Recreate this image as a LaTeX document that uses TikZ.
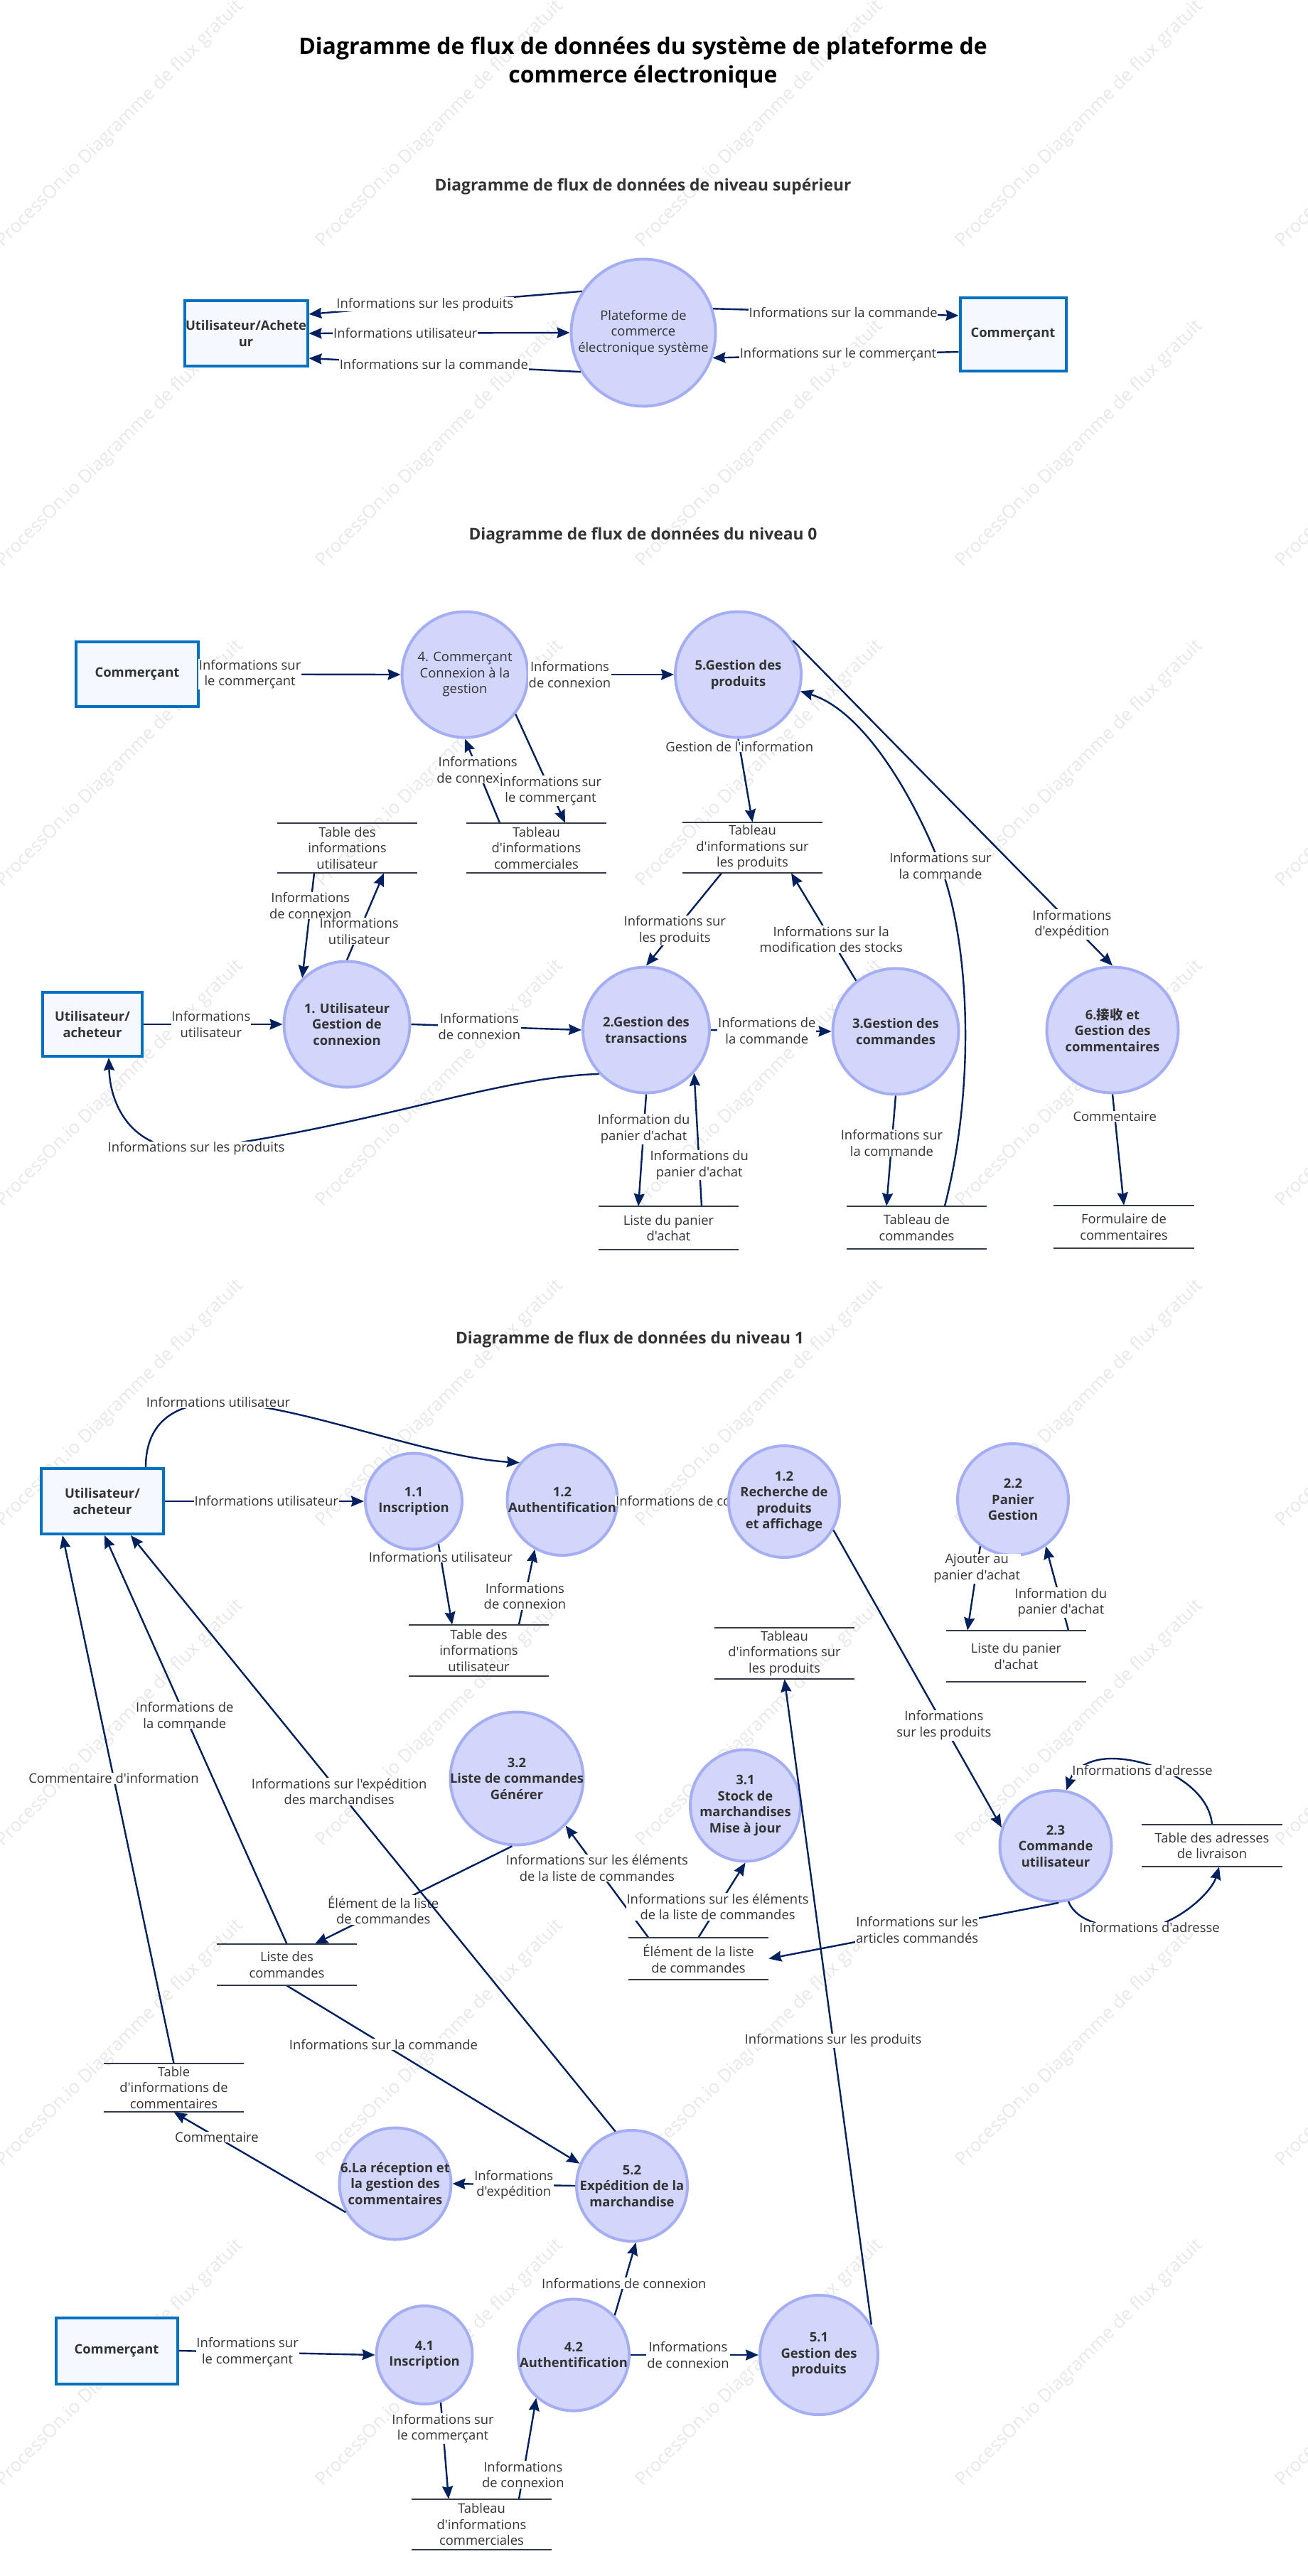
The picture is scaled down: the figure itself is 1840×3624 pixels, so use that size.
\documentclass[tikz,border=0pt]{standalone}
\usepackage{fontspec}
\defaultfontfeatures[\rmfamily]{}
\setmainfont{Open Sans}
\newfontfamily\cjk{Noto Sans CJK SC}
\usetikzlibrary{arrows.meta,shapes.geometric}
\definecolor{flowblue}{HTML}{002060}
\definecolor{procfill}{HTML}{D2D6FA}
\definecolor{procline}{HTML}{A5AEF3}
\definecolor{boxline}{HTML}{0070C0}
\definecolor{boxfill}{HTML}{F5F8FF}
\definecolor{inkgray}{HTML}{333333}
\definecolor{storeline}{HTML}{323C4C}
\definecolor{markgray}{HTML}{E8E8E8}

\begin{document}
\begin{tikzpicture}[
  x=0.5pt, y=-0.5pt,
  >={Stealth[length=9pt, width=7.5pt, inset=1pt]},
  flow/.style={->, line width=1.2pt, flowblue},
  lbl/.style={fill=white, inner sep=0.4pt, align=center, text=inkgray,
    font=\fontsize{9.2}{11.25}\selectfont},
  proc/.style n args={2}{ellipse, draw=procline, line width=2pt, fill=procfill, inner sep=-25pt,
    minimum width=#1*0.5pt, minimum height=#2*0.5pt, align=center, text=inkgray,
    font=\fontsize{9.2}{11.25}\selectfont\bfseries},
  extbox/.style n args={2}{rectangle, draw=boxline, line width=2pt, fill=boxfill, inner sep=0pt,
    minimum width=#1*0.5pt, minimum height=#2*0.5pt, align=center, text=inkgray,
    font=\fontsize{9.2}{11.25}\selectfont\bfseries},
  storebox/.style={rectangle, inner sep=0pt, minimum width=98.5pt, minimum height=#1*0.5pt,
    align=center, text=inkgray, font=\fontsize{9.2}{11.25}\selectfont},
  heading/.style={inner sep=0pt, align=center, text=inkgray,
    font=\fontsize{11.4}{14}\selectfont\bfseries}
]
  \useasboundingbox (0,0) rectangle (1840,3624);

  % Watermark grid
  \foreach \r in {-1,...,7} {
    \foreach \c in {0,...,4} {
      \node[anchor=west, rotate=45, inner sep=0pt, text=markgray, font=\fontsize{12.9}{15}\selectfont]
        (wm\r\c) at (\c*450-1, \r*450+344) {ProcessOn.io Diagramme de flux gratuit};
    }
  }

  % Titles
  \node[inner sep=0pt, align=center, font=\fontsize{16}{19.6}\selectfont\bfseries]
    (title) at (904.5,88) {Diagramme de flux de données du système de plateforme de\\commerce électronique};
  \node[heading] (headtop) at (904.5,263) {Diagramme de flux de données de niveau supérieur};
  \node[heading] (headzero) at (904.5,753) {Diagramme de flux de données du niveau 0};
  \node[heading] (headone) at (886,1884) {Diagramme de flux de données du niveau 1};

  % Top level
  \node[extbox={173}{92}] (usr0) at (346,469) {Utilisateur/Achete\\ur};
  \node[extbox={149}{103}] (mer0) at (1425,470) {Commerçant};
  \node[proc={203}{207}, font=\fontsize{9.2}{11.25}\selectfont] (sys) at (905,468)
    {Plateforme de\\commerce\\électronique système};

  \draw[flow] (sys.146) -- node[lbl, pos=.575] (lbt1) {Informations sur les produits} ([shift={(0,-27)}]usr0.east);
  \draw[flow, <->] (usr0.east) -- node[lbl, pos=.37] (lbt2) {Informations utilisateur} (sys.west);
  \draw[flow] (sys.212) -- node[lbl, pos=.54] (lbt3) {Informations sur la commande} ([shift={(0,35)}]usr0.east);
  \draw[flow] (sys.19) -- node[lbl, pos=.53] (lbt4) {Informations sur la commande} ([shift={(0,-26)}]mer0.west);
  \draw[flow] ([shift={(0,25)}]mer0.west) -- node[lbl, pos=.49] (lbt5) {Informations sur le commerçant} (sys.-20);

  % Level 0: boxes and stores
  \node[extbox={172}{91}] (mer1) at (193,948.5) {Commerçant};
  \node[extbox={140}{90}] (usr1) at (130,1441) {Utilisateur/\\acheteur};
  \node[storebox=70] (st1) at (488.5,1193) {Table des\\informations\\utilisateur};
  \node[storebox=70] (st4) at (754.5,1193) {Tableau\\d'informations\\commerciales};
  \node[storebox=71] (stp) at (1058.5,1192.5) {Tableau\\d'informations sur\\les produits};
  \node[storebox=60] (stc) at (940.5,1727.5) {Liste du panier\\d'achat};
  \node[storebox=60] (sto) at (1289.5,1727) {Tableau de\\commandes};
  \node[storebox=60] (stf) at (1581,1726) {Formulaire de\\commentaires};

  % Level 0: processes
  \node[proc={177}{177}, font=\fontsize{9.2}{11.25}\selectfont] (p4) at (654,949) {4. Commerçant\\Connexion à la\\gestion};
  \node[proc={177}{177}] (p5) at (1038.5,949) {5.Gestion des\\produits};
  \node[proc={177}{177}] (p1) at (488,1441) {1. Utilisateur\\Gestion de\\connexion};
  \node[proc={178}{177}] (p2) at (909,1449) {2.Gestion des\\transactions};
  \node[proc={177}{177}] (p3) at (1260,1451) {3.Gestion des\\commandes};
  \node[proc={185}{177}] (p6) at (1565,1449) {6.{\cjk 接收} et\\Gestion des\\commentaires};

  % Level 0: flows
  \draw[flow] (mer1.east) -- node[lbl, pos=.25] (lb01) {Informations sur\\le commerçant} (p4.west);
  \draw[flow] (p4.east) -- node[lbl, pos=.28] (lb02) {Informations\\de connexion} (p5.west);
  \draw[flow] ([shift={(-51.5,0)}]st4.north) -- node[lbl, pos=.63] (lb03) {Informations\\de connexion} (p4.south);
  \draw[flow] (p4.-38) -- node[lbl, pos=.706] (lb04) {Informations sur\\le commerçant} ([shift={(40.5,0)}]st4.north);
  \draw[flow] (p5.south) -- node[lbl, pos=.09] (lb05) {Gestion de l'information} (stp.north);
  \draw[flow] ([shift={(-43.5,0)}]stp.south) -- node[lbl, pos=.62] (lb06) {Informations sur\\les produits} (p2.north);
  \draw[flow] (p3.128) -- node[lbl, pos=.384] (lb07) {Informations sur la\\modification des stocks} ([shift={(54.5,0)}]stp.south);
  \draw[flow] (p2.east) -- node[lbl, pos=.465] (lb08) {Informations de\\la commande} (p3.west);
  \draw[flow] (p3.south) -- node[lbl, pos=.43] (lb09) {Informations sur\\la commande} ([shift={(-42.5,0)}]sto.north);
  \draw[flow] ([shift={(39.5,0)}]sto.north) .. controls (1372,1530) and (1365,1330) .. (1323,1218)
    node[lbl] (lb10) {Informations sur\\la commande}
    .. controls (1285,1120) and (1215,1000) .. (p5.-15);
  \draw[flow] (p5.32) -- node[lbl, pos=.873] (lb11) {Informations\\d'expédition} (p6.north);
  \draw[flow] (p6.south) -- node[lbl, pos=.2] (lb12) {Commentaire} (stf.north);
  \draw[flow] (p2.south) -- node[lbl, pos=.31] (lb13) {Information du\\panier d'achat} ([shift={(-42.5,0)}]stc.north);
  \draw[flow] ([shift={(46.5,0)}]stc.north) -- node[lbl, pos=.31] (lb14) {Informations du\\panier d'achat} (p2.-42);
  \draw[flow] (usr1.east) -- node[lbl, pos=.485] (lb15) {Informations\\utilisateur} (p1.west);
  \draw[flow] (p1.east) -- node[lbl, pos=.4] (lb16) {Informations\\de connexion} (p2.west);
  \draw[flow] ([shift={(-46.5,0)}]st1.south) -- node[lbl, pos=.31] (lb17) {Informations\\de connexion} (p1.134);
  \draw[flow] (p1.north) -- node[lbl, pos=.33] (lb18) {Informations\\utilisateur} ([shift={(51.5,0)}]st1.south);
  \draw[flow] (p2.223) .. controls (700,1515) and (520,1585) .. (276,1616)
    node[lbl] (lb19) {Informations sur les produits}
    .. controls (190,1622) and (155,1560) .. ([shift={(23,0)}]usr1.south);

  % Level 1: boxes and stores
  \node[extbox={172}{92}] (usr2) at (144,2112) {Utilisateur/\\acheteur};
  \node[extbox={171}{93}] (mer2) at (164,3307) {Commerçant};
  \node[storebox=72] (sq1) at (673.5,2322) {Table des\\informations\\utilisateur};
  \node[storebox=72] (sqp) at (1103.5,2326) {Tableau\\d'informations sur\\les produits};
  \node[storebox=72] (sqc) at (1429.5,2330) {Liste du panier\\d'achat};
  \node[storebox=59] (sqa) at (1705,2596.5) {Table des adresses\\de livraison};
  \node[storebox=59] (sqe) at (982.5,2755.5) {Élément de la liste\\de commandes};
  \node[storebox=58] (sql) at (403.5,2764) {Liste des\\commandes};
  \node[storebox=68] (sqm) at (244.5,2937) {Table\\d'informations de\\commentaires};
  \node[storebox=71] (sqt) at (677.5,3551.5) {Tableau\\d'informations\\commerciales};

  % Level 1: processes
  \node[proc={136}{135}] (q11) at (582,2112) {1.1\\Inscription};
  \node[proc={155}{156}] (q12) at (791,2110) {1.2\\Authentification};
  \node[proc={156}{157}] (q22) at (1425,2109.5) {2.2\\Panier\\Gestion};
  \node[proc={157}{156}] (q23) at (1485,2597) {2.3\\Commande\\utilisateur};
  \node[proc={187}{187}] (q32) at (727,2502) {3.2\\Liste de commandes\\Générer};
  \node[proc={155}{157}] (q31) at (1048.5,2540) {3.1\\Stock de\\marchandises\\Mise à jour};
  \node[proc={156}{156}] (q52) at (889,3075) {5.2\\Expédition de la\\marchandise};
  \node[proc={157}{157}] (q6) at (556,3072) {6.La réception et\\la gestion des\\commentaires};
  \node[proc={135}{138}] (q41) at (597,3313) {4.1\\Inscription};
  \node[proc={156}{157}] (q42) at (807,3313) {4.2\\Authentification};
  \node[proc={166}{168}] (q51) at (1152,3313) {5.1\\Gestion des\\produits};

  % Level 1: this label runs under the next circle
  \coordinate (q13w) at (1025,2112);
  \draw[flow] (q12.east) -- node[lbl, pos=.72] (lc01) {Informations de connexion} (q13w);
  \node[proc={156}{157}] (q13) at (1103,2112.5) {1.2\\Recherche de\\produits\\et affichage};

  % Level 1: flows
  \draw[flow] (usr2.east) -- node[lbl, pos=.51] (lc02) {Informations utilisateur} (q11.west);
  \draw[flow] ([shift={(61,0)}]usr2.north) .. controls (205,2020) and (225,1975) .. (307,1973)
    node[lbl] (lc03) {Informations utilisateur}
    .. controls (420,1975) and (600,2050) .. (q12.139);
  \draw[flow] (q11.-60) -- node[lbl, pos=.16] (lc04) {Informations utilisateur} ([shift={(-37.5,0)}]sq1.north);
  \draw[flow] ([shift={(56.5,0)}]sq1.north) -- node[lbl, pos=.38] (lc05) {Informations\\de connexion} (q12.241);
  \draw[flow] (q13.-30) -- node[lbl, pos=.657] (lc06) {Informations\\sur les produits} (q23.161);
  \draw[flow] (q22.235) -- node[lbl, pos=.265] (lc07) {Ajouter au\\panier d'achat} ([shift={(-68.5,0)}]sqc.north);
  \draw[flow] ([shift={(73.5,0)}]sqc.north) -- node[lbl, pos=.33] (lc08) {Information du\\panier d'achat} (q22.-55);
  \draw[flow] (sqa.north) .. controls (1700,2510) and (1620,2474) .. (1564,2474)
    .. controls (1530,2474) and (1510,2490) .. (q23.79);
  \node[lbl] (lc09) at (1607,2491) {Informations d'adresse};
  \draw[flow] (q23.-77) .. controls (1515,2705) and (1560,2715) .. (1617,2712)
    node[lbl] (lc10) {Informations d'adresse}
    .. controls (1665,2700) and (1705,2660) .. ([shift={(10,0)}]sqa.south);
  \draw[flow] (q23.-87) -- node[lbl, pos=.488] (lc11) {Informations sur les\\articles commandés} (sqe.east);
  \draw[flow] ([shift={(-70.5,0)}]sqe.north) -- node[lbl, pos=.62] (lc12) {Informations sur les éléments\\de la liste de commandes} (q32.-44);
  \draw[flow] (sqe.north) -- node[lbl, pos=.41] (lc13) {Informations sur les éléments\\de la liste de commandes} (q31.south);
  \draw[flow] (q32.266) -- node[lbl, pos=.653] (lc14) {Élément de la liste\\de commandes} ([shift={(39.5,0)}]sql.north);
  \draw[flow] (sql.north) -- node[lbl, pos=.56] (lc15) {Informations de\\la commande} ([shift={(3,0)}]usr2.south);
  \draw[flow] (sql.south) -- node[lbl, pos=.33] (lc16) {Informations sur la commande} (q52.157);
  \draw[flow] (sqm.north) -- node[lbl, pos=.54] (lc17) {Commentaire d'information} ([shift={(-56,0)}]usr2.south);
  \draw[flow] (q52.107) -- node[lbl, pos=.57] (lc18) {Informations sur l'expédition\\des marchandises} ([shift={(40,0)}]usr2.south);
  \draw[flow] (q52.west) -- node[lbl, pos=.5] (lc19) {Informations\\d'expédition} (q6.east);
  \draw[flow] (q6.210) -- node[lbl, pos=.75] (lc20) {Commentaire} (sqm.south);
  \draw[flow] (mer2.east) -- node[lbl, pos=.35] (lc21) {Informations sur\\le commerçant} (q41.west);
  \draw[flow] (q42.east) -- node[lbl, pos=.45] (lc22) {Informations\\de connexion} (q51.west);
  \draw[flow] (q42.44) -- node[lbl, pos=.44] (lc23) {Informations de connexion} (q52.-86);
  \draw[flow] (q41.-71) -- node[lbl, pos=.27] (lc24) {Informations sur\\le commerçant} ([shift={(-46.5,0)}]sqt.north);
  \draw[flow] ([shift={(52.5,0)}]sqt.north) -- node[lbl, pos=.24] (lc25) {Informations\\de connexion} (q42.229);
  \draw[flow] (q51.30) -- node[lbl, pos=.44] (lc26) {Informations sur les produits} (sqp.south);

  % Store rules
  \foreach \s in {st1,st4,stp,stc,sto,stf,sq1,sqp,sqc,sqa,sqe,sql,sqm,sqt} {
    \draw[line width=1pt, storeline] (\s.north west) -- (\s.north east);
    \draw[line width=1pt, storeline] (\s.south west) -- (\s.south east);
  }
\end{tikzpicture}
\end{document}
